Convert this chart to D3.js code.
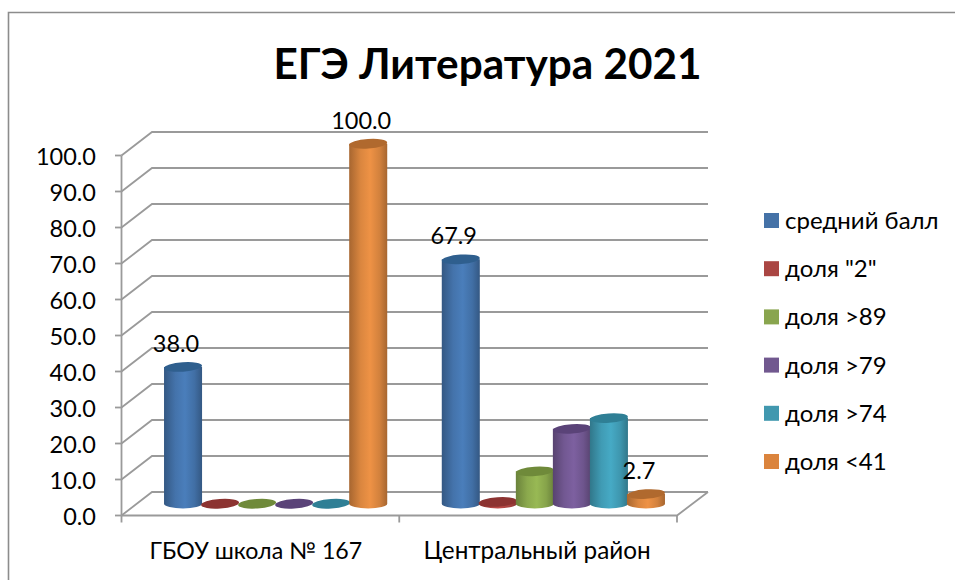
<!DOCTYPE html>
<html><head><meta charset="utf-8">
<style>html,body{margin:0;padding:0;background:#fff}svg{display:block}text{font-family:Lato,"Open Sans",sans-serif;fill:#000}</style>
<script src="https://cdn.jsdelivr.net/npm/d3@7"></script></head><body>
<script>
const title = "ЕГЭ Литература 2021";
const categories = ["ГБОУ школа № 167", "Центральный район"];
const seriesNames = ["средний балл", 'доля "2"', "доля >89", "доля >79", "доля >74", "доля <41"];
const seriesColors = ["#4a7ebb", "#be4b48", "#98b954", "#7d60a0", "#46aac5", "#ee9245"];
const topColors = ["#2f5f8e", "#8c3331", "#6f8a3a", "#5a4378", "#2f7f95", "#b0692e"];
const legendColors = ["#4572a7", "#aa4643", "#89a54e", "#71588f", "#4198af", "#db843d"];
const schoolValues = [38.0, 0, 0, 0, 0, 100.0];
const districtValues = [67.9, 0.5, 9.0, 20.8, 23.8, 2.7];
const valueTicks = d3.range(0, 101, 10);

const W = 955, H = 580;
const svg = d3.select("body").append("svg").attr("width", W).attr("height", H);
const defs = svg.append("defs");
seriesColors.forEach((c, i) => {
  const g = defs.append("linearGradient").attr("id", "g" + i);
  const dark = d3.color(c).darker(1.0);
  g.append("stop").attr("offset", "0%").attr("stop-color", dark);
  g.append("stop").attr("offset", "30%").attr("stop-color", d3.color(c).darker(.25));
  g.append("stop").attr("offset", "55%").attr("stop-color", c);
  g.append("stop").attr("offset", "80%").attr("stop-color", d3.color(c).darker(.35));
  g.append("stop").attr("offset", "100%").attr("stop-color", dark);
});

// frame: open on the right and at the bottom
svg.append("path").attr("d", "M8.5,580V12.5H955").attr("fill", "none").attr("stroke", "#8c8c8c").attr("stroke-width", 1.6);

svg.append("text").attr("x", 487.5).attr("y", 79).attr("text-anchor", "middle")
  .attr("font-size", 42.3).attr("font-weight", 700).text(title);

// 3D projection: front plane + depth offset
const depth = {dx: 30.5, dy: -23.5};
const yFront = d3.scaleLinear().domain([0, 100]).range([515.5, 155.5]);
const xFront = d3.scaleBand().domain(categories).range([121.5, 677]);
const xBar = d3.scaleBand().domain(d3.range(seriesNames.length))
  .range([0, xFront.bandwidth()]).paddingOuter(0.75).paddingInner(0);
const gridC = "#9a9a9a";

const grid = svg.append("g").attr("fill", "none").attr("stroke", gridC).attr("stroke-width", 1.8);
valueTicks.forEach(t => {
  const y = yFront(t);
  grid.append("path").attr("d", `M121.5,${y}L${121.5 + depth.dx},${y + depth.dy}H708`);
  grid.append("path").attr("d", `M115,${y}H121.5`);
});
grid.append("path").attr("d", `M121.5,${yFront(0)}V${yFront(100)}`);
grid.append("path").attr("d", `M121.5,${yFront(0)}H677L708,${yFront(0) + depth.dy}`);
const xTickVals = [121.5, xFront.range()[0] + xFront.bandwidth(), 677];
xTickVals.forEach(x => grid.append("path").attr("d", `M${x},${yFront(0)}v7`));

valueTicks.forEach(t => svg.append("text").attr("x", 96).attr("y", yFront(t) + 9)
  .attr("text-anchor", "end").attr("font-size", 23.5).text(t.toFixed(1)));

categories.forEach((c, i) => svg.append("text").attr("x", xFront(c) + xFront.bandwidth() / 2 + (i === 0 ? -4.5 : -1)).attr("y", 559)
  .attr("text-anchor", "middle").attr("font-size", i === 0 ? 23.2 : 24.3).text(c));

// cylinders
const mx = depth.dx / 2, my = depth.dy / 2;
const rows = [schoolValues, districtValues];
const bars = svg.append("g");
const labels = [];
rows.forEach((vals, ci) => {
  vals.forEach((v, si) => {
    const bw = xBar.bandwidth() + 1;
    const x0 = xFront(categories[ci]) + xBar(si) + mx - 0.5;
    const cx = x0 + bw / 2, rx = bw / 2, ry = 4.7;
    const yb = yFront(0) + my, yt = yFront(v) + my;
    const g = bars.append("g");
    if (v > 0) {
      g.append("path")
        .attr("d", `M${x0},${yt}V${yb}A${rx},${ry} 0 0 0 ${x0 + bw},${yb}V${yt}Z`)
        .attr("fill", `url(#g${si})`);
    }
    g.append("ellipse").attr("cx", cx).attr("cy", yt).attr("rx", rx).attr("ry", ry)
      .attr("transform", `rotate(-4 ${cx} ${yt})`).attr("fill", topColors[si]);
    if (v >= 1 && (si === 0 || si === 5)) labels.push({v, cx, yt});
  });
});
labels.forEach(d => {
  svg.append("text").attr("x", d.cx - 7).attr("y", d.yt - 15).attr("text-anchor", "middle")
    .attr("font-size", 23.5).text(d.v.toFixed(1));
});

// legend
const legendY = d3.scalePoint().domain(d3.range(seriesNames.length)).range([221, 462]);
seriesNames.forEach((n, i) => {
  svg.append("rect").attr("x", 764).attr("y", legendY(i) - 8).attr("width", 15).attr("height", 15).attr("fill", legendColors[i]);
  svg.append("text").attr("x", 785).attr("y", legendY(i) + 8).attr("font-size", 24).text(n);
});
</script></body></html>
